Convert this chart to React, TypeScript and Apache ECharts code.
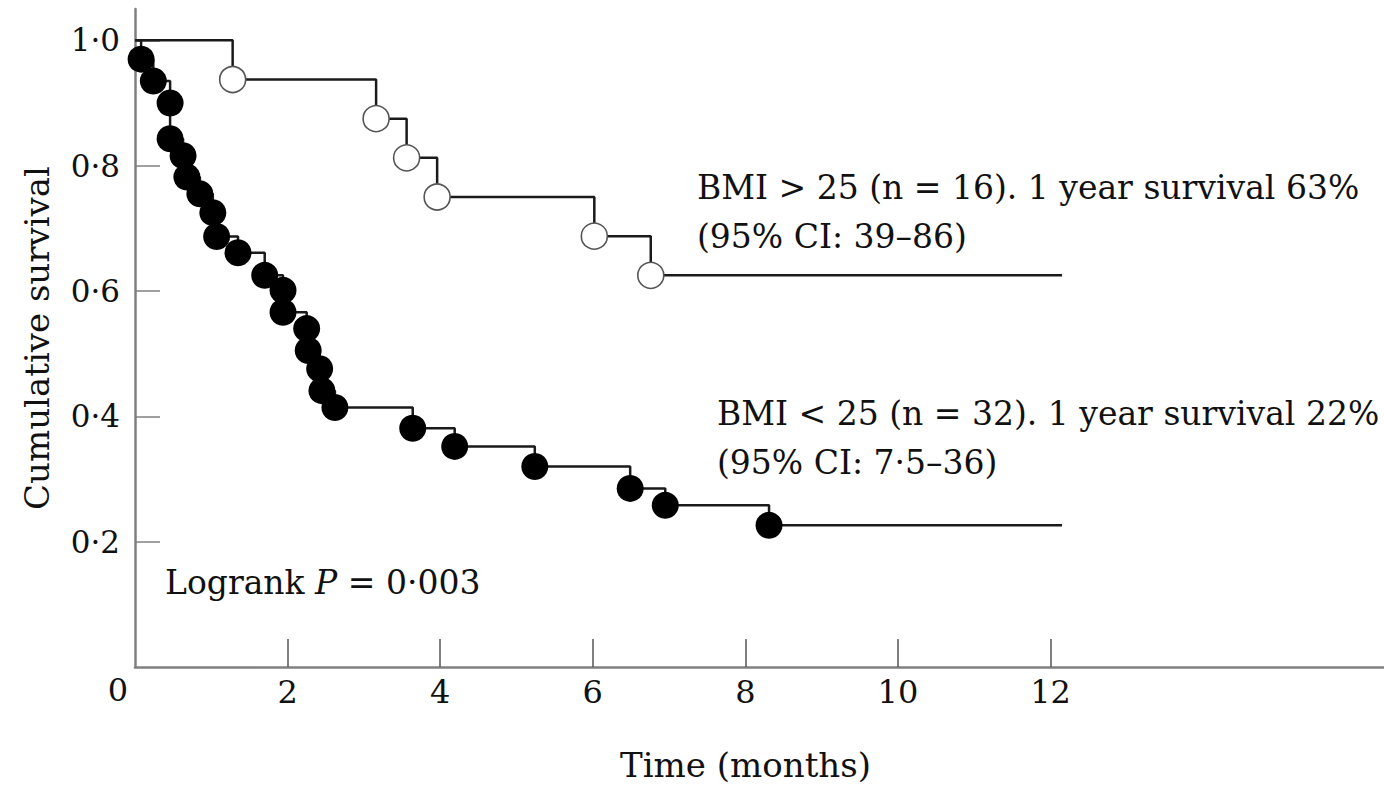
import React, { useEffect, useRef } from "react";
import * as echarts from "echarts";

// ---- data ----
const xTickValues = [2, 4, 6, 8, 10, 12];
const yTickValues = [0.2, 0.4, 0.6, 0.8, 1.0];

// BMI > 25 (n = 16): [time in months, cumulative survival]
const highBmiCurve: [number, number][] = [
  [0, 1],
  [1.28, 0.9375],
  [3.16, 0.875],
  [3.56, 0.8125],
  [3.96, 0.75],
  [6.02, 0.6875],
  [6.76, 0.625],
  [12.15, 0.625],
];

// BMI < 25 (n = 32)
const lowBmiCurve: [number, number][] = [
  [0, 1],
  [0.08, 0.97],
  [0.24, 0.935],
  [0.46, 0.9],
  [0.46, 0.843],
  [0.63, 0.816],
  [0.68, 0.782],
  [0.85, 0.755],
  [1.02, 0.725],
  [1.07, 0.687],
  [1.35, 0.661],
  [1.7, 0.625],
  [1.94, 0.601],
  [1.94, 0.566],
  [2.25, 0.54],
  [2.27, 0.505],
  [2.42, 0.476],
  [2.45, 0.441],
  [2.62, 0.414],
  [3.64, 0.381],
  [4.19, 0.352],
  [5.24, 0.32],
  [6.49, 0.285],
  [6.95, 0.258],
  [8.31, 0.226],
  [12.15, 0.226],
];

const highBmiEvents = highBmiCurve.slice(1, -1);
const lowBmiEvents = lowBmiCurve.slice(1, -1);

const FONT = "'DejaVu Serif', 'Liberation Serif', serif";
const INK = "#111111";
const AXIS = "#808080";

const fmt = (v: number) => v.toFixed(1).replace(".", "\u00b7");

export default function App() {
  const ref = useRef<HTMLDivElement>(null);

  useEffect(() => {
    if (!ref.current) return;
    const chart = echarts.init(ref.current, undefined, { renderer: "svg" });
    chart.setOption({
      animation: false,
      backgroundColor: "#ffffff",
      grid: { left: 135, right: 0, top: 9, bottom: 119, containLabel: false },
      xAxis: {
        type: "value",
        min: 0,
        max: 16.37,
        name: "Time (months)",
        nameLocation: "middle",
        nameGap: 81,
        nameTextStyle: { fontFamily: FONT, fontSize: 34, color: INK, padding: [0, 28, 0, 0] },
        axisLine: { show: true, lineStyle: { color: AXIS, width: 2.5 } },
        axisTick: {
          show: true,
          inside: true,
          length: 28,
          customValues: xTickValues,
          lineStyle: { color: "#555", width: 1.5 },
        },
        axisLabel: {
          show: true,
          customValues: xTickValues,
          margin: 9,
          fontFamily: FONT,
          fontSize: 32,
          color: INK,
          formatter: (v: number) => String(v),
        },
        splitLine: { show: false },
      },
      yAxis: {
        type: "value",
        min: 0,
        max: 1.05,
        name: "Cumulative survival",
        nameLocation: "middle",
        nameGap: 81,
        nameTextStyle: { fontFamily: FONT, fontSize: 34, color: INK },
        axisLine: { show: true, lineStyle: { color: AXIS, width: 2.5 } },
        axisTick: {
          show: true,
          inside: true,
          length: 25,
          customValues: yTickValues,
          lineStyle: { color: AXIS, width: 1.5 },
        },
        axisLabel: {
          show: true,
          customValues: yTickValues,
          margin: 15,
          fontFamily: FONT,
          fontSize: 31,
          color: INK,
          formatter: (v: number) => fmt(v),
        },
        splitLine: { show: false },
      },
      series: [
        {
          name: "BMI > 25",
          type: "line",
          step: "end",
          data: highBmiCurve,
          showSymbol: false,
          symbol: "none",
          lineStyle: { color: "#1a1a1a", width: 2.5 },
          z: 2,
        },
        {
          name: "BMI < 25",
          type: "line",
          step: "end",
          data: lowBmiCurve,
          showSymbol: false,
          symbol: "none",
          lineStyle: { color: "#1a1a1a", width: 2.5 },
          z: 2,
        },
        {
          name: "BMI > 25 events",
          type: "scatter",
          data: highBmiEvents,
          symbol: "circle",
          symbolSize: 26,
          itemStyle: { color: "#ffffff", borderColor: "#555", borderWidth: 1.6, opacity: 1 },
          z: 3,
        },
        {
          name: "BMI < 25 events",
          type: "scatter",
          data: lowBmiEvents,
          symbol: "circle",
          symbolSize: 27,
          itemStyle: { color: "#000000", borderWidth: 0, opacity: 1 },
          z: 3,
        },
      ],
      graphic: [
        {
          type: "text",
          x: 118,
          y: 690,
          style: { text: "0", fontFamily: FONT, fontSize: 32, fill: INK, align: "center", verticalAlign: "middle" },
        },
        {
          type: "text",
          x: 697,
          y: 187,
          style: {
            text: "BMI > 25 (n = 16). 1 year survival 63%",
            fontFamily: FONT, fontSize: 33, fill: INK, align: "left", verticalAlign: "middle",
          },
        },
        {
          type: "text",
          x: 697,
          y: 236,
          style: {
            text: "(95% CI: 39\u201386)",
            fontFamily: FONT, fontSize: 33, fill: INK, align: "left", verticalAlign: "middle",
          },
        },
        {
          type: "text",
          x: 717,
          y: 413,
          style: {
            text: "BMI < 25 (n = 32). 1 year survival 22%",
            fontFamily: FONT, fontSize: 33, fill: INK, align: "left", verticalAlign: "middle",
          },
        },
        {
          type: "text",
          x: 717,
          y: 462,
          style: {
            text: "(95% CI: 7\u00b75\u201336)",
            fontFamily: FONT, fontSize: 33, fill: INK, align: "left", verticalAlign: "middle",
          },
        },
        {
          type: "text",
          x: 165,
          y: 582,
          style: {
            text: "{a|Logrank }{b|P}{a| = 0\u00b7003}",
            align: "left",
            verticalAlign: "middle",
            rich: {
              a: { fontFamily: FONT, fontSize: 33, fill: INK, color: INK },
              b: { fontFamily: FONT, fontSize: 33, fontStyle: "italic", fill: INK, color: INK },
            },
          },
        },
      ],
    });
    return () => chart.dispose();
  }, []);

  return (
    <div
      ref={ref}
      style={{ position: "fixed", left: 0, top: 0, width: 1384, height: 787, background: "#fff" }}
    />
  );
}
